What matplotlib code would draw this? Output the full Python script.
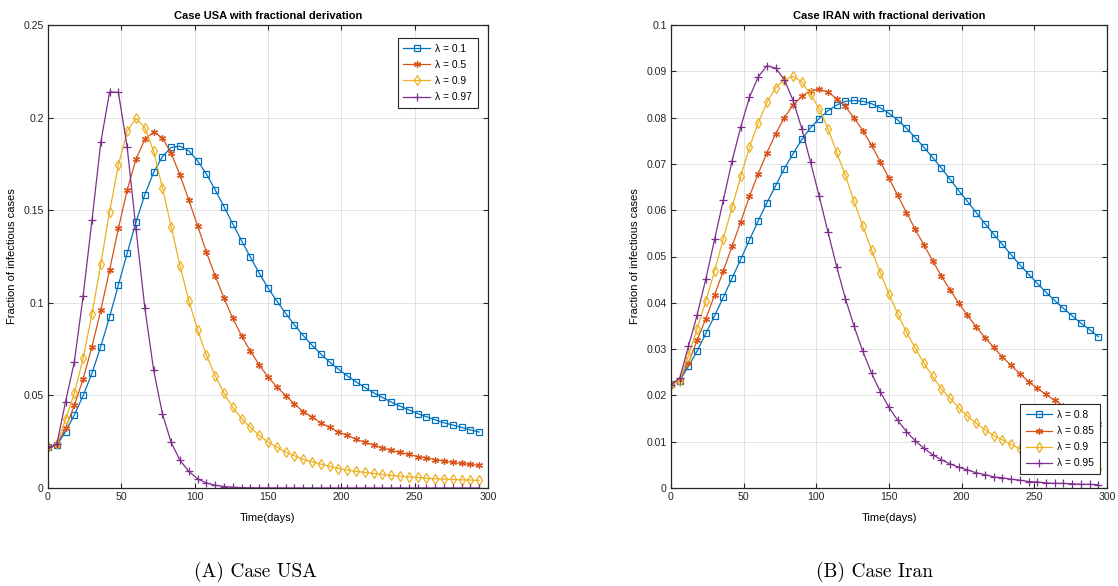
import matplotlib
matplotlib.use("Agg")
import matplotlib.pyplot as plt
from matplotlib import font_manager
from matplotlib.ticker import FuncFormatter

# days sampled every 6 days
days = list(range(0, 300, 6))

# Case USA
usa_l01 = [0.022, 0.023, 0.0305, 0.0395, 0.050, 0.062, 0.0764, 0.0924, 0.1097, 0.1268,
           0.1435, 0.1584, 0.1704, 0.1789, 0.1839, 0.1846, 0.182, 0.1767, 0.1695, 0.161,
           0.1519, 0.1426, 0.1335, 0.1246, 0.116, 0.108, 0.101, 0.0944, 0.0881, 0.0823,
           0.0771, 0.0724, 0.068, 0.0642, 0.0606, 0.0573, 0.0543, 0.0514, 0.0489, 0.0464,
           0.0442, 0.0422, 0.0402, 0.0385, 0.0368, 0.0352, 0.034, 0.0327, 0.0314, 0.0302]
usa_l05 = [0.022, 0.0234, 0.0324, 0.0446, 0.059, 0.0764, 0.096, 0.1177, 0.1402, 0.1609,
           0.1775, 0.1882, 0.1922, 0.1891, 0.1807, 0.169, 0.1555, 0.1416, 0.1273, 0.1145,
           0.1025, 0.0917, 0.0821, 0.0739, 0.0665, 0.060, 0.0546, 0.0499, 0.0453, 0.0413,
           0.0383, 0.0352, 0.0327, 0.0302, 0.0284, 0.0264, 0.0246, 0.0232, 0.0217, 0.0203,
           0.0192, 0.0181, 0.017, 0.0162, 0.0153, 0.0146, 0.0138, 0.0133, 0.0127, 0.0122]
usa_l09 = [0.022, 0.0236, 0.0372, 0.0512, 0.0703, 0.094, 0.121, 0.1492, 0.1744, 0.1927,
           0.1996, 0.1945, 0.1819, 0.1621, 0.1411, 0.120, 0.1012, 0.0854, 0.0717, 0.0606,
           0.0512, 0.0435, 0.0374, 0.0327, 0.0284, 0.0248, 0.0221, 0.0194, 0.0174, 0.0154,
           0.0142, 0.0129, 0.0117, 0.0105, 0.0097, 0.009, 0.0084, 0.0079, 0.0073, 0.0068,
           0.0064, 0.006, 0.0057, 0.0053, 0.005, 0.0048, 0.0046, 0.0044, 0.0043, 0.0041]
usa_l097 = [0.022, 0.0236, 0.0467, 0.0683, 0.1039, 0.1447, 0.1866, 0.2139, 0.2136, 0.1839,
            0.1399, 0.0974, 0.0638, 0.0401, 0.0246, 0.0149, 0.009, 0.005, 0.0027, 0.0015,
            0.0008, 0.0004, 0.0002, 0.00012, 0.00008, 0.00005, 0.00003, 0.00002, 0.00001, 0.00001,
            0, 0, 0, 0, 0, 0, 0, 0, 0, 0,
            0, 0, 0, 0, 0, 0, 0, 0, 0, 0]

# Case Iran
iran_l08 = [0.0224, 0.0232, 0.0263, 0.0296, 0.0334, 0.0372, 0.0412, 0.0453, 0.0494, 0.0536,
            0.0577, 0.0616, 0.0653, 0.069, 0.0722, 0.0753, 0.0778, 0.0798, 0.0815, 0.0827,
            0.0835, 0.0837, 0.0835, 0.083, 0.0821, 0.0809, 0.0795, 0.0777, 0.0757, 0.0736,
            0.0714, 0.0691, 0.0667, 0.0642, 0.0619, 0.0595, 0.0571, 0.0548, 0.0526, 0.0504,
            0.0482, 0.0462, 0.0442, 0.0423, 0.0405, 0.0388, 0.0372, 0.0356, 0.0342, 0.0327]
iran_l085 = [0.0224, 0.0234, 0.0271, 0.0319, 0.0366, 0.0417, 0.0469, 0.0522, 0.0575, 0.063,
             0.0679, 0.0724, 0.0765, 0.08, 0.0827, 0.0846, 0.0858, 0.0861, 0.0855, 0.0841,
             0.0824, 0.0799, 0.0772, 0.074, 0.0705, 0.0669, 0.0632, 0.0595, 0.0559, 0.0525,
             0.0491, 0.0458, 0.0428, 0.0399, 0.0373, 0.0348, 0.0325, 0.0304, 0.0283, 0.0265,
             0.0247, 0.023, 0.0215, 0.0202, 0.0189, 0.0178, 0.0167, 0.0157, 0.0148, 0.0139]
iran_l09 = [0.0223, 0.0232, 0.0286, 0.0344, 0.0404, 0.0469, 0.0538, 0.0606, 0.0673, 0.0736,
            0.0788, 0.0833, 0.0864, 0.0882, 0.0889, 0.0877, 0.085, 0.0819, 0.0776, 0.0725,
            0.0675, 0.0619, 0.0566, 0.0514, 0.0465, 0.0419, 0.0376, 0.0337, 0.0302, 0.027,
            0.0241, 0.0214, 0.0194, 0.0173, 0.0155, 0.014, 0.0126, 0.0113, 0.0104, 0.0094,
            0.0085, 0.0077, 0.007, 0.0064, 0.0058, 0.0054, 0.0049, 0.0046, 0.0043, 0.0041]
iran_l095 = [0.0223, 0.0237, 0.0306, 0.0374, 0.0452, 0.0537, 0.0622, 0.0706, 0.078, 0.0844,
             0.0888, 0.0912, 0.0907, 0.0882, 0.0837, 0.0776, 0.0704, 0.063, 0.0553, 0.0478,
             0.0409, 0.0349, 0.0295, 0.0248, 0.0208, 0.0174, 0.0146, 0.0122, 0.0102, 0.0086,
             0.0072, 0.0061, 0.0052, 0.0045, 0.0039, 0.0033, 0.0029, 0.0024, 0.0022, 0.0019,
             0.0017, 0.0014, 0.0013, 0.0011, 0.001, 0.001, 0.0009, 0.0008, 0.0008, 0.0007]

usa_labels = ["λ = 0.1", "λ = 0.5", "λ = 0.9", "λ = 0.97"]
iran_labels = ["λ = 0.8", "λ = 0.85", "λ = 0.9", "λ = 0.95"]

colors = ["#0072BD", "#D95319", "#EDB120", "#7E2F8E"]
markers = ["s", (6, 2, 0), "d", "+"]
msizes = [3.8, 5, 5.2, 6]

names = {f.name for f in font_manager.fontManager.ttflist}
sans = "Liberation Sans Narrow" if "Liberation Sans Narrow" in names else "Liberation Sans"
plt.rcParams['font.family'] = [sans, 'DejaVu Sans']

fig = plt.figure(figsize=(11.18, 5.86), dpi=100)
ax1 = fig.add_axes([48/1118, 1-488/586, 440/1118, 463/586])
ax2 = fig.add_axes([671/1118, 1-488/586, 436/1118, 463/586])


def style(ax, title, ymax, ystep):
    ax.set_xlim(0, 300)
    ax.set_ylim(0, ymax)
    ax.set_xticks(range(0, 301, 50))
    n = int(round(ymax / ystep))
    ax.set_yticks([i * ystep for i in range(n + 1)])
    ax.yaxis.set_major_formatter(FuncFormatter(lambda v, p: "%g" % round(v, 4)))
    ax.grid(True, color="#e3e3e3", lw=0.7)
    ax.set_axisbelow(True)
    ax.tick_params(direction="in", top=True, right=True, length=3.5, width=0.8,
                   labelsize=7.6, colors="#262626", pad=3)
    for s in ax.spines.values():
        s.set_color("#262626")
        s.set_linewidth(0.9)
    ax.set_title(title, fontsize=8, fontweight="bold", pad=4)
    ax.set_xlabel("Time(days)", fontsize=8, labelpad=8)
    ax.set_ylabel("Fraction of infectious cases", fontsize=8, labelpad=5)


for ys, lab, c, m, ms in zip([usa_l01, usa_l05, usa_l09, usa_l097], usa_labels, colors, markers, msizes):
    ax1.plot(days, ys, color=c, marker=m, ms=ms, mfc="none", mew=0.9, lw=0.9, label=lab)
for ys, lab, c, m, ms in zip([iran_l08, iran_l085, iran_l09, iran_l095], iran_labels, colors, markers, msizes):
    ax2.plot(days, ys, color=c, marker=m, ms=ms, mfc="none", mew=0.9, lw=0.9, label=lab)

style(ax1, "Case USA with fractional derivation", 0.25, 0.05)
style(ax2, "Case IRAN with fractional derivation", 0.1, 0.01)

for ax, loc, anchor in [(ax1, "upper right", (0.977, 0.972)), (ax2, "lower right", (0.984, 0.030))]:
    leg = ax.legend(loc=loc, bbox_to_anchor=anchor, fontsize=7.4, frameon=True, fancybox=False,
                    framealpha=1, edgecolor="#262626", borderpad=0.55, handlelength=2.6,
                    handletextpad=0.5, labelspacing=0.6, borderaxespad=0)
    leg.get_frame().set_linewidth(0.8)

fig.text(255/1118, 1-572/586, "(A) Case USA", family=["cmr10", "DejaVu Serif"], fontsize=14,
         ha="center", va="center")
fig.text(875/1118, 1-572/586, "(B) Case Iran", family=["cmr10", "DejaVu Serif"], fontsize=14,
         ha="center", va="center")

fig.savefig("out.png", dpi=100)
